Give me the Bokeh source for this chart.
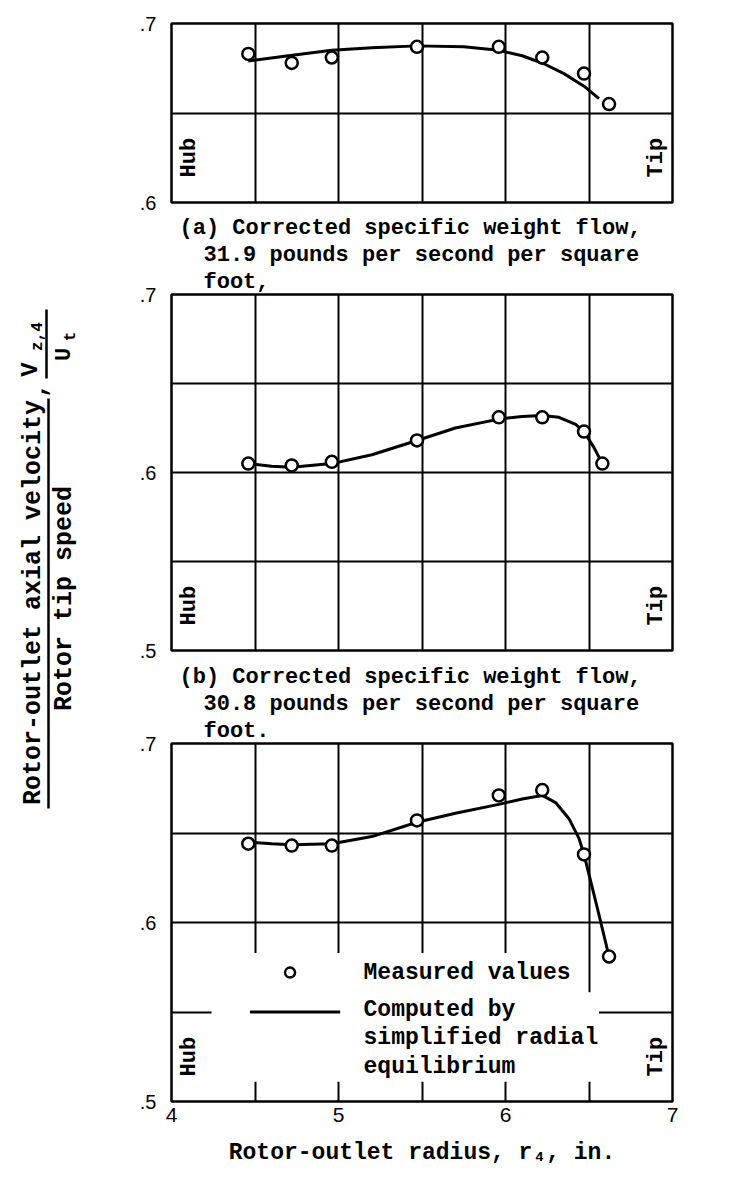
import math

from bokeh.core.properties import value
from bokeh.embed import file_html
from bokeh.layouts import column, row
from bokeh.models import CustomJSTickFormatter, FixedTicker, Label, Range1d, Title
from bokeh.plotting import figure
from bokeh.resources import INLINE

TYPE_FONT = "Liberation Mono"
TICK_FONT = "Liberation Sans"

# Measuring stations, rotor-outlet radius r4 (in.)
radius_a = [4.46, 4.72, 4.96, 5.47, 5.96, 6.22, 6.47, 6.62]
radius_b = [4.46, 4.72, 4.96, 5.47, 5.96, 6.22, 6.47, 6.58]
radius_c = [4.46, 4.72, 4.96, 5.47, 5.96, 6.22, 6.47, 6.62]

# Measured Vz,4 / Ut
measured_a = [0.683, 0.678, 0.681, 0.687, 0.687, 0.681, 0.672, 0.655]
measured_b = [0.605, 0.604, 0.606, 0.618, 0.631, 0.631, 0.623, 0.605]
measured_c = [0.644, 0.643, 0.643, 0.657, 0.671, 0.674, 0.638, 0.581]

# Computed by simplified radial equilibrium
computed_a_r = [4.46, 4.70, 4.96, 5.20, 5.47, 5.75, 5.96, 6.10, 6.23, 6.35, 6.47, 6.56]
computed_a_v = [0.679, 0.682, 0.685, 0.6865, 0.6875, 0.687, 0.685, 0.682, 0.6775, 0.672, 0.665, 0.658]
computed_b_r = [4.46, 4.60, 4.72, 4.96, 5.20, 5.47, 5.70, 5.96, 6.10, 6.22, 6.32, 6.42, 6.47, 6.53, 6.58]
computed_b_v = [0.605, 0.6035, 0.603, 0.605, 0.610, 0.618, 0.625, 0.630, 0.6315, 0.632, 0.631, 0.627, 0.623, 0.614, 0.605]
computed_c_r = [4.46, 4.60, 4.72, 4.96, 5.20, 5.47, 5.70, 5.96, 6.10, 6.22, 6.30, 6.38, 6.44, 6.47, 6.55, 6.62]
computed_c_v = [0.645, 0.644, 0.6435, 0.644, 0.648, 0.656, 0.661, 0.666, 0.669, 0.671, 0.667, 0.658, 0.647, 0.638, 0.608, 0.581]

x_ticks = [4, 5, 6, 7]
x_grid = [4.5, 5.0, 5.5, 6.0, 6.5]
y_ticks_a = [0.6, 0.7]
y_ticks_bc = [0.5, 0.6, 0.7]
y_grid_a = [0.65]
y_grid_bc = [0.55, 0.6, 0.65]

caption_a = ["(a) Corrected specific weight flow,",
             "31.9 pounds per second per square",
             "foot,"]
caption_b = ["(b) Corrected specific weight flow,",
             "30.8 pounds per second per square",
             "foot."]
legend_measured = "Measured values"
legend_computed = ["Computed by", "simplified radial", "equilibrium"]
x_title = "Rotor-outlet radius, r\u2084, in."

TXT = dict(text_font=TYPE_FONT, text_font_style="bold", text_color="black")


def make_panel(y_lo, y_hi, ticks, grid_vals, frame_h, border_top, border_bottom):
    p = figure(frame_width=501, frame_height=frame_h,
               x_range=Range1d(4, 7), y_range=Range1d(y_lo, y_hi),
               output_backend="svg", toolbar_location=None,
               min_border_left=51, min_border_right=83,
               min_border_top=border_top, min_border_bottom=border_bottom,
               outline_line_color="black", outline_line_width=2.5,
               background_fill_color="white", border_fill_color="white")
    p.xgrid.ticker = FixedTicker(ticks=x_grid)
    p.ygrid.ticker = FixedTicker(ticks=grid_vals)
    for g in (p.xgrid[0], p.ygrid[0]):
        g.grid_line_color = "black"
        g.grid_line_width = 2
        g.grid_line_alpha = 1.0

    yax = p.yaxis[0]
    yax.ticker = FixedTicker(ticks=ticks)
    yax.formatter = CustomJSTickFormatter(code="return tick.toFixed(1).replace(/^0/, '');")
    yax.axis_line_color = None
    yax.major_tick_in = 0
    yax.major_tick_out = 0
    yax.minor_tick_line_color = None
    yax.major_label_standoff = 15
    yax.major_label_text_font = TICK_FONT
    yax.major_label_text_font_size = "20px"
    yax.major_label_text_color = "black"

    xax = p.xaxis[0]
    xax.ticker = FixedTicker(ticks=x_ticks)
    xax.axis_line_color = None
    xax.major_tick_in = 0
    xax.major_tick_out = 0
    xax.minor_tick_line_color = None
    xax.major_label_standoff = 6
    xax.major_label_text_font = TICK_FONT
    xax.major_label_text_font_size = "21px"
    xax.major_label_text_color = "black"

    p.add_layout(Label(x=4, y=y_lo, x_offset=18, y_offset=25, text="Hub",
                       angle=math.pi / 2, text_align="left", text_baseline="middle",
                       text_font_size="22px", **TXT))
    p.add_layout(Label(x=7, y=y_lo, x_offset=-16, y_offset=25, text="Tip",
                       angle=math.pi / 2, text_align="left", text_baseline="middle",
                       text_font_size="22px", **TXT))
    return p


def add_series(p, r_meas, v_meas, r_comp, v_comp):
    p.line(r_comp, v_comp, line_color="black", line_width=3)
    p.scatter(r_meas, v_meas, marker="circle", size=12, line_color="black",
              line_width=2.5, fill_color="white")


def add_caption(p, lines):
    # titles stack outward from the frame: last line first
    for i in reversed(range(len(lines))):
        p.add_layout(Title(text=lines[i], align="left", offset=8 if i == 0 else 32,
                           standoff=0, text_font_size="22px", **TXT), "above")


# Panel (a)
pa = make_panel(0.6, 0.7, y_ticks_a, y_grid_a, 179, 23, 11)
pa.xaxis.visible = False
add_series(pa, radius_a, measured_a, computed_a_r, computed_a_v)

# Panel (b), with the caption of (a) above its frame
pb = make_panel(0.5, 0.7, y_ticks_bc, y_grid_bc, 356, 0, 12)
pb.xaxis.visible = False
add_series(pb, radius_b, measured_b, computed_b_r, computed_b_v)
add_caption(pb, caption_a)

# Panel (c), with the caption of (b), the legend and the radius axis
pc = make_panel(0.5, 0.7, y_ticks_bc, y_grid_bc, 358, 0, 78)
add_caption(pc, caption_b)
xax_c = pc.xaxis[0]
xax_c.axis_label = x_title
xax_c.axis_label_standoff = 15
xax_c.axis_label_text_font = TYPE_FONT
xax_c.axis_label_text_font_style = "bold"
xax_c.axis_label_text_font_size = "23px"
xax_c.axis_label_text_color = "black"

# white patch behind the legend text
pc.quad(left=[4.24, 6.44], right=[6.44, 6.56], bottom=[0.511, 0.511], top=[0.583, 0.561],
        fill_color="white", line_color=None)
add_series(pc, radius_c, measured_c, computed_c_r, computed_c_v)
pc.scatter([4.71], [0.572], marker="circle", size=10, line_color="black",
           line_width=2.5, fill_color="white")
pc.segment(x0=[4.47], y0=[0.55], x1=[5.01], y1=[0.55], line_color="black", line_width=3)
pc.text(x=[5.15], y=[0.572], text=[legend_measured], text_align="left", text_baseline="middle",
        text_font=value(TYPE_FONT), text_font_style="bold", text_font_size="23px")
pc.text(x=[5.15, 5.15, 5.15], y=[0.551, 0.5355, 0.519], text=legend_computed,
        text_align="left", text_baseline="middle",
        text_font=value(TYPE_FONT), text_font_style="bold", text_font_size="23px")

# Left strip with the ordinate title
H = 1180
lab = figure(frame_width=120, frame_height=H, x_range=Range1d(0, 120), y_range=Range1d(0, H),
             output_backend="svg", toolbar_location=None, min_border=0,
             x_axis_type=None, y_axis_type=None, outline_line_color=None,
             background_fill_color="white", border_fill_color="white")
lab.grid.visible = False


def put(txt, x, y_page, size, align="center"):
    lab.text(x=[x], y=[H - y_page], text=[txt], angle=math.pi / 2, text_align=align,
             text_baseline="middle", text_font=value(TYPE_FONT), text_font_style="bold",
             text_font_size=size)


put("Rotor-outlet axial velocity", 33, 602, "25px")
put("Rotor tip speed", 64, 598, "25px")
put(",", 36, 390, "25px")
put("V", 30, 369, "24px")
put("z,4", 37, 336, "16px")
put("U", 64, 354, "22px")
put("t", 70, 336, "16px")
lab.segment(x0=[48, 46], y0=[H - 398, H - 309], x1=[48, 46], y1=[H - 808, H - 378],
            line_color="black", line_width=2.5)

layout = row(lab, column(pa, pb, pc))
open("out.html", "w").write(file_html(layout, INLINE))
